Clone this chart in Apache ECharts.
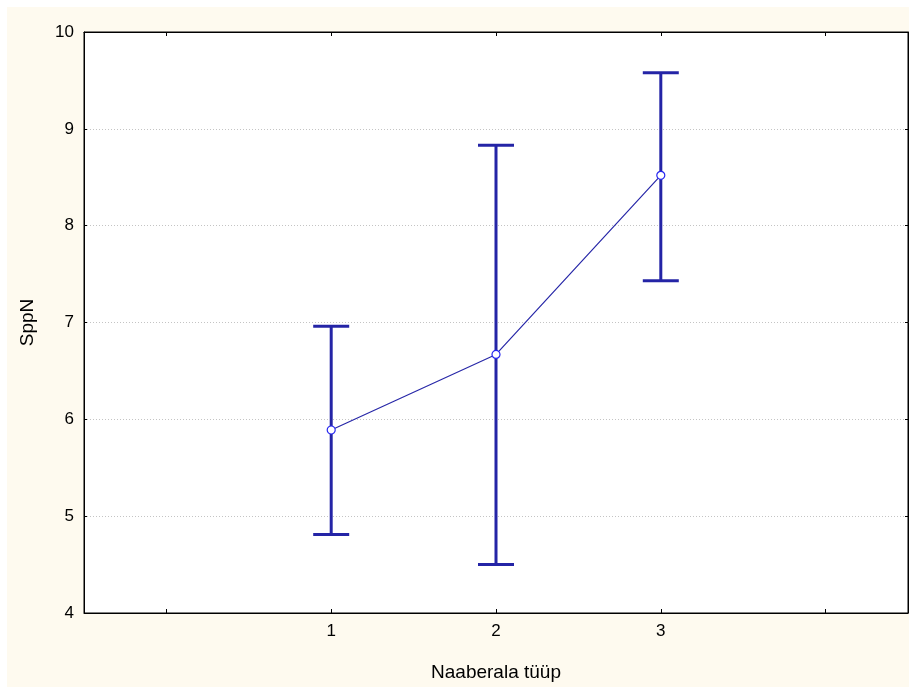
<!DOCTYPE html>
<html>
<head>
<meta charset="utf-8">
<script src="https://cdn.jsdelivr.net/npm/echarts@6/dist/echarts.min.js"></script>
<style>
    html, body { margin: 0; padding: 0; background: #ffffff; overflow: hidden; width: 909px; height: 687px; }
    #chart { position: absolute; left: 7px; top: 7px; width: 902px; height: 680px; }
</style>
</head>
<body>
<div id="chart"></div>
<script>
// data
let xCategories = ['', '1', '2', '3', ''];
let xIndex = [1, 2, 3];
let means = [5.89, 6.67, 8.52];
let upper = [6.96, 8.83, 9.58];
let lower = [4.81, 4.50, 7.43];
let yTicks = [4, 5, 6, 7, 8, 9, 10];

let barColor = '#2424A6';
let font = 'Liberation Sans, Arial, sans-serif';
let fs = 17;
let nameFs = 19;

let lineData = xIndex.map((x, i) => [x, means[i]]);
let errData = xIndex.map((x, i) => [x, lower[i], upper[i]]);

var chart = echarts.init(document.getElementById('chart'));

let tick = { show: true, alignWithLabel: true, inside: true, length: 4, lineStyle: { color: '#000', width: 1 } };

let option = {
    backgroundColor: '#FEFAEF',
    animation: false,
    grid: {
        left: 77,
        top: 25,
        right: 1,
        bottom: 74,
        z: 0,
        show: true,
        backgroundColor: '#ffffff',
        borderColor: '#000000',
        borderWidth: 1
    },
    xAxis: [{
        type: 'category',
        data: xCategories,
        boundaryGap: true,
        position: 'bottom',
        z: 5,
        name: 'Naaberala tüüp',
        nameLocation: 'middle',
        nameGap: 50,
        nameTextStyle: { fontFamily: font, fontSize: nameFs, color: '#000' },
        axisLine: { lineStyle: { color: '#000', width: 1 } },
        axisTick: tick,
        axisLabel: { fontFamily: font, fontSize: fs, color: '#000', margin: 10, interval: 0 },
        splitLine: { show: false }
    }, {
        type: 'category',
        data: xCategories,
        boundaryGap: true,
        position: 'top',
        z: 5,
        axisLine: { lineStyle: { color: '#000', width: 1 } },
        axisTick: tick,
        axisLabel: { show: false, interval: 0 },
        splitLine: { show: false }
    }],
    yAxis: [{
        type: 'value',
        min: yTicks[0],
        max: yTicks[yTicks.length - 1],
        interval: 1,
        position: 'left',
        z: 5,
        name: 'SppN',
        nameLocation: 'middle',
        nameGap: 47,
        nameRotate: 90,
        nameTextStyle: { fontFamily: font, fontSize: nameFs, color: '#000' },
        axisLine: { show: true, lineStyle: { color: '#000', width: 1 } },
        axisTick: { show: true, inside: true, length: 3, lineStyle: { color: '#000' } },
        axisLabel: { fontFamily: font, fontSize: fs, color: '#000', margin: 10 },
        splitLine: { show: true, lineStyle: { color: '#c4c4c4', type: [1, 2], width: 1 } }
    }, {
        type: 'value',
        min: yTicks[0],
        max: yTicks[yTicks.length - 1],
        interval: 1,
        position: 'right',
        z: 5,
        axisLine: { show: true, lineStyle: { color: '#000', width: 1 } },
        axisTick: { show: true, inside: true, length: 3, lineStyle: { color: '#000' } },
        axisLabel: { show: false },
        splitLine: { show: false }
    }],
    series: [{
        type: 'custom',
        xAxisIndex: 0,
        yAxisIndex: 0,
        data: errData,
        z: 6,
        renderItem: function (params, api) {
            let x = api.value(0);
            let lo = api.coord([x, api.value(1)]);
            let hi = api.coord([x, api.value(2)]);
            let half = 18;
            let style = { stroke: barColor, lineWidth: 3 };
            return {
                type: 'group',
                children: [
                    { type: 'line', shape: { x1: hi[0], y1: hi[1], x2: lo[0], y2: lo[1] }, style: style },
                    { type: 'line', shape: { x1: hi[0] - half, y1: hi[1], x2: hi[0] + half, y2: hi[1] }, style: style },
                    { type: 'line', shape: { x1: lo[0] - half, y1: lo[1], x2: lo[0] + half, y2: lo[1] }, style: style }
                ]
            };
        }
    }, {
        type: 'line',
        xAxisIndex: 0,
        yAxisIndex: 0,
        data: lineData,
        z: 7,
        symbol: 'circle',
        symbolSize: 8,
        lineStyle: { color: '#2828A8', width: 1.2 },
        itemStyle: { color: '#ffffff', borderColor: '#2626F0', borderWidth: 1.2 }
    }]
};
chart.setOption(option);
</script>
</body>
</html>
